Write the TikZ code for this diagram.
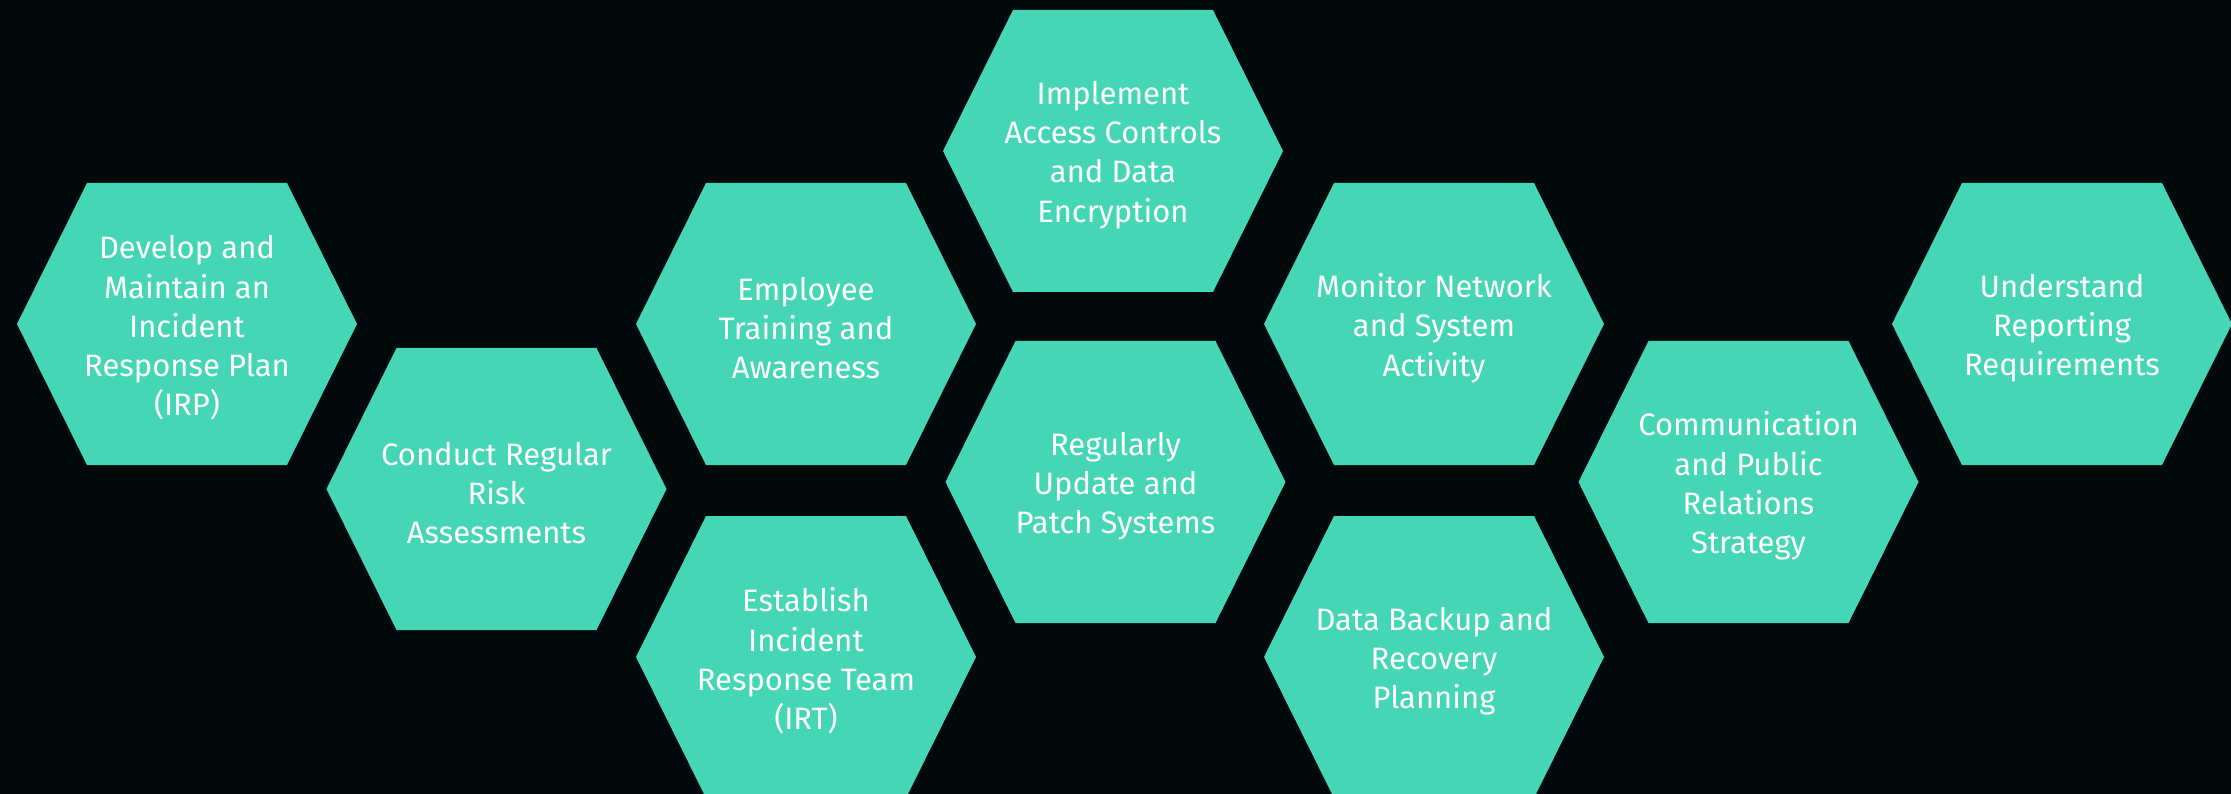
\documentclass[tikz,border=0pt]{standalone}
\usepackage{fontspec}
\setmainfont{Fira Sans}
\usetikzlibrary{positioning}

\definecolor{bgdark}{RGB}{1,9,11}
\definecolor{hexteal}{RGB}{69,214,181}

\tikzset{
  hexfill/.style={fill=hexteal},
  hexlabel/.style={text=white,align=center,yshift=-4pt,font=\fontsize{31}{39.3}\selectfont}
}

\begin{document}
\begin{tikzpicture}[x=1pt,y=-1pt]

                \useasboundingbox (0,0) rectangle (2231,794);
                \fill[bgdark] (0,0) rectangle (2231,794);
                \clip (0,0) rectangle (2231,794);

                \foreach \n/\x/\y/\t in {
                    dev/187/324/{Develop and\\Maintain an\\Incident\\Response Plan\\(IRP)},
                    risk/496.5/489/{Conduct Regular\\Risk\\Assessments},
                    train/806/324/{Employee\\Training and\\Awareness},
                    irt/806/657/{Establish\\Incident\\Response Team\\(IRT)},
                    access/1113/151/{Implement\\Access Controls\\and Data\\Encryption},
                    patch/1115.5/482/{Regularly\\Update and\\Patch Systems},
                    monitor/1434/324/{Monitor Network\\and System\\Activity},
                    backup/1434/657/{Data Backup and\\Recovery\\Planning},
                    comms/1748.5/482/{Communication\\and Public\\Relations\\Strategy},
                    report/2062/324/{Understand\\Reporting\\Requirements}}
                    {
                    \fill[hexfill] (\x,\y) ++(-170,0) -- ++(70,-141) -- ++(200,0)
                        -- ++(70,141) -- ++(-70,141) -- ++(-200,0) -- cycle;
                    \node[hexlabel] (\n) at (\x,\y) {\t};
                    }

            \end{tikzpicture}
\end{document}
